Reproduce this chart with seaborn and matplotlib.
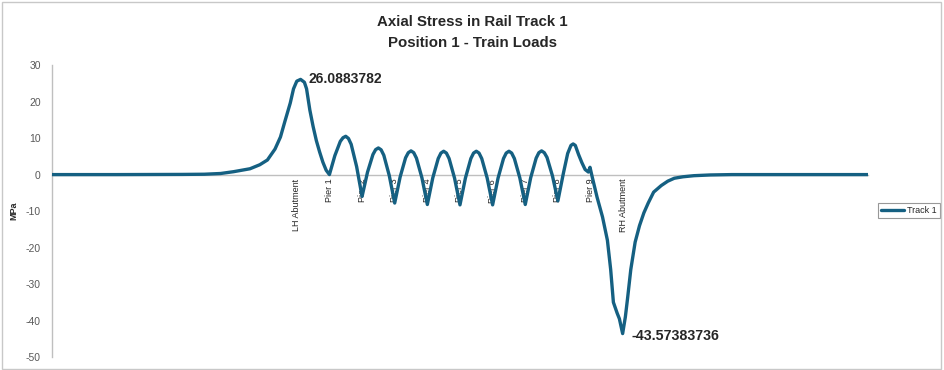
import numpy as np
import matplotlib.pyplot as plt
import pandas as pd
import seaborn as sns

# chainage along the track (m) and axial rail stress (MPa)
chainage = [0, 60, 120, 140, 155, 167, 182, 191, 198, 205, 210, 214, 219, 222, 225, 228.5,
            232, 234, 237, 240, 243, 246, 249, 252, 255,
            260, 265, 267.5, 270, 272.5, 275, 280, 285,
            290, 295, 297.5, 300, 302.5, 305, 310, 315,
            320, 325, 327.5, 330, 332.5, 335, 340, 345,
            350, 355, 357.5, 360, 362.5, 365, 370, 375,
            380, 385, 387.5, 390, 392.5, 395, 400, 405,
            410, 415, 417.5, 420, 422.5, 425, 430, 435,
            440, 445, 447.5, 450, 452.5, 455, 460, 465,
            470, 474, 477, 479, 481, 484, 487, 490, 493, 494.5, 496.5,
            501, 506, 510.5, 513.5, 516, 519.5, 521.5, 524.5,
            527, 529, 532, 536, 540, 544, 548, 553, 560, 566, 572, 580, 590, 605, 625, 680, 750]
stress = [0, 0, 0.05, 0.1, 0.3, 0.8, 1.6, 2.7, 4.0, 7.0, 10.3, 14.5, 19.6, 23.5, 25.6, 26.0883782,
          25.3, 23.5, 17.7, 13.2, 9.3, 6.2, 3.4, 1.2, 0.0,
          5.2, 9.1, 10.1, 10.5, 9.9, 8.3, 2.2, -6.0,
          0.65, 5.5, 6.85, 7.3, 6.8, 5.3, -0.25, -7.8,
          -0.65, 4.6, 6.0, 6.5, 6.0, 4.5, -0.85, -8.2,
          -0.9, 4.4, 5.9, 6.4, 5.9, 4.4, -0.95, -8.3,
          -0.95, 4.4, 5.9, 6.4, 5.9, 4.4, -0.95, -8.3,
          -0.95, 4.4, 5.9, 6.4, 5.9, 4.4, -0.9, -8.2,
          -0.85, 4.5, 6.0, 6.5, 6.0, 4.7, -0.35, -7.2,
          0.3, 5.8, 8.0, 8.4, 8.0, 5.5, 3.3, 1.4, 0.7, 2.0, -0.6,
          -6.2, -11.6, -18.0, -26.0, -35.0, -38.0, -39.5, -43.57383736,
          -39.0, -34.0, -26.0, -18.5, -14.0, -10.5, -7.8, -4.8, -3.0, -1.8, -1.0, -0.6, -0.3, -0.1, 0.0, 0.0, 0.0]

support_names = ['LH Abutment', 'Pier 1', 'Pier 2', 'Pier 3', 'Pier 4', 'Pier 5',
                 'Pier 6', 'Pier 7', 'Pier 8', 'Pier 9', 'RH Abutment']
support_chainage = [225, 255, 285, 315, 345, 375, 405, 435, 465, 495, 525]

sns.set_style('white')
plt.rcParams['font.family'] = ['Liberation Sans', 'DejaVu Sans']
plt.rcParams['axes.unicode_minus'] = False

df = pd.DataFrame({'Chainage': chainage, 'Stress': stress})
line_col = '#156082'

fig = plt.figure(figsize=(9.45, 3.7), dpi=100)
ax = fig.add_axes([0.055, 0.035, 0.8635, 0.789])

# zorder above the axis so the line covers the pier labels like in excel
sns.lineplot(data=df, x='Chainage', y='Stress', ax=ax, color=line_col,
             linewidth=2.4, label='Track 1', zorder=3)

ax.set_xlim(min(chainage), max(chainage))
ax.set_ylim(-50, 30)
ax.set_yticks(range(-50, 31, 10))
ax.tick_params(axis='y', length=0, pad=8, labelsize=7.5, labelcolor='#595959')

# support names sit on the zero line, like the excel category axis
ax.spines['bottom'].set_position(('data', 0))
ax.set_xticks(support_chainage, support_names, rotation=90)
ax.tick_params(axis='x', length=0, pad=3, labelsize=6.5, labelcolor='#262626')
for s in ['top', 'right']:
    ax.spines[s].set_visible(False)
for s in ['bottom', 'left']:
    ax.spines[s].set_color('#bfbfbf')
    ax.spines[s].set_linewidth(1)

ax.set_xlabel('')
ax.set_ylabel('MPa', fontsize=6.5, fontweight='bold')
ax.yaxis.set_label_coords(-0.041, 0.5)

# max / min data labels
imax = df['Stress'].idxmax()
imin = df['Stress'].idxmin()
ax.annotate(f"{df['Stress'][imax]:.7f}", xy=(df['Chainage'][imax], df['Stress'][imax]),
            xytext=(5.5, 0), textcoords='offset points', ha='left', va='center',
            fontsize=10, fontweight='bold', zorder=4)
ax.annotate(f"{df['Stress'][imin]:.8f}", xy=(df['Chainage'][imin], df['Stress'][imin]),
            xytext=(6.5, -1.5), textcoords='offset points', ha='left', va='center',
            fontsize=10.3, fontweight='bold', zorder=4)

leg = ax.legend(loc='center left', bbox_to_anchor=(0.924, 0.432), bbox_transform=fig.transFigure,
                fontsize=6.5, frameon=True, fancybox=False, edgecolor='#7f7f7f',
                handlelength=2.6, borderpad=0.35, handletextpad=0.3)
leg.get_frame().set_linewidth(0.8)

fig.suptitle('Axial Stress in Rail Track 1\nPosition 1 - Train Loads', x=0.5, y=0.913, va='center',
             fontsize=10.8, fontweight='bold', linespacing=1.65,
             family=['Liberation Sans Narrow', 'Liberation Sans', 'DejaVu Sans'])

# chart border
fig.add_artist(plt.Rectangle((0.002, 0.004), 0.994, 0.99, transform=fig.transFigure,
                             fill=False, edgecolor='#c8c8c8', linewidth=1))

fig.savefig('out.png', dpi=100)
